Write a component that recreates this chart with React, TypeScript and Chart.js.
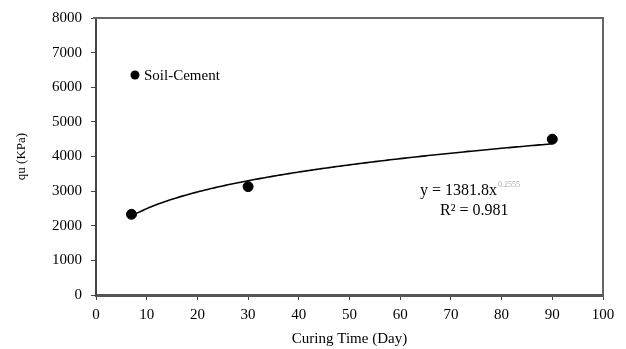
import { useEffect, useRef } from "react";
import { Chart, registerables } from "chart.js";

Chart.register(...registerables);

// ---- data ----
const curingDays = [7, 30, 90];
const quValues = [2330, 3130, 4500];
const seriesLabel = "Soil-Cement";
const equationMain = "y = 1381.8x";
const equationExp = "0.2555";
const r2Text = "R² = 0.981";
const xTitle = "Curing Time (Day)";
const yTitle = "qu (KPa)";
const xRange = [0, 100];
const yRange = [0, 8000];

const FONT = "'Liberation Serif', 'Times New Roman', serif";

// power-law least-squares fit (log-log), as a spreadsheet trendline does
function powerFit(xs: number[], ys: number[]) {
  const lx = xs.map((v) => Math.log(v));
  const ly = ys.map((v) => Math.log(v));
  const n = xs.length;
  const mx = lx.reduce((a, b) => a + b, 0) / n;
  const my = ly.reduce((a, b) => a + b, 0) / n;
  let sxy = 0, sxx = 0;
  for (let i = 0; i < n; i++) {
    sxy += (lx[i] - mx) * (ly[i] - my);
    sxx += (lx[i] - mx) * (lx[i] - mx);
  }
  const b = sxy / sxx;
  const a = Math.exp(my - b * mx);
  return { a, b };
}

export default function App() {
  const ref = useRef<HTMLCanvasElement | null>(null);

  useEffect(() => {
    const canvas = ref.current;
    if (!canvas) return;
    const { a, b } = powerFit(curingDays, quValues);
    const x0 = Math.min(...curingDays);
    const x1 = Math.max(...curingDays);
    const trend: { x: number; y: number }[] = [];
    for (let d = x0; d <= x1; d += 0.5) trend.push({ x: d, y: a * Math.pow(d, b) });

    const overlay = {
      id: "overlay",
      afterDraw(chart: any) {
        const { ctx, chartArea } = chart;
        ctx.save();
        // frame top & right
        ctx.strokeStyle = "#666";
        ctx.lineWidth = 2;
        ctx.beginPath();
        ctx.moveTo(chartArea.left - 3, chartArea.top);
        ctx.lineTo(chartArea.right, chartArea.top);
        ctx.lineTo(chartArea.right, chartArea.bottom);
        ctx.stroke();
        // legend
        ctx.fillStyle = "#000";
        ctx.beginPath();
        ctx.arc(135, 75, 4.5, 0, Math.PI * 2);
        ctx.fill();
        ctx.font = `15px ${FONT}`;
        ctx.textBaseline = "middle";
        ctx.textAlign = "left";
        ctx.fillText(seriesLabel, 144, 76);
        // equation
        ctx.font = `16px ${FONT}`;
        ctx.fillText(equationMain, 420, 191);
        const w = ctx.measureText(equationMain).width;
        ctx.font = `8px ${FONT}`;
        ctx.fillStyle = "#aaa";
        ctx.fillText(equationExp, 420 + w + 1, 185);
        ctx.fillStyle = "#000";
        ctx.font = `16px ${FONT}`;
        ctx.fillText(r2Text, 440, 211);
        ctx.restore();
      },
    };

    const chart = new Chart(canvas, {
      type: "scatter",
      data: {
        datasets: [
          {
            label: "trend",
            data: trend,
            showLine: true,
            borderColor: "#000",
            borderWidth: 1.6,
            pointRadius: 0,
            fill: false,
          } as any,
          {
            label: seriesLabel,
            data: curingDays.map((d, i) => ({ x: d, y: quValues[i] })),
            backgroundColor: "#000",
            borderColor: "#000",
            pointRadius: 5,
            pointHoverRadius: 5,
          },
        ],
      },
      options: {
        responsive: false,
        animation: false,
        devicePixelRatio: 1,
        layout: { padding: { top: 18, right: 23, left: 0, bottom: 0 } },
        plugins: { legend: { display: false }, tooltip: { enabled: false } },
        scales: {
          x: {
            type: "linear",
            min: xRange[0],
            max: xRange[1],
            ticks: {
              stepSize: 10,
              color: "#000",
              font: { family: FONT, size: 15 },
              padding: 6,
              callback: (v: any) => String(v),
            },
            grid: { drawOnChartArea: false, drawTicks: true, tickLength: 5, color: "#444", tickWidth: 1 },
            border: { display: true, color: "#555", width: 3 },
            title: {
              display: true,
              text: xTitle,
              color: "#000",
              font: { family: FONT, size: 15 },
              padding: { top: 0, bottom: 1 },
            },
            afterFit: (s: any) => {
              s.height = 54;
            },
          },
          y: {
            min: yRange[0],
            max: yRange[1],
            ticks: {
              stepSize: 1000,
              color: "#000",
              font: { family: FONT, size: 15 },
              padding: 9,
              callback: (v: any) => String(v),
            },
            grid: { drawOnChartArea: false, drawTicks: true, tickLength: 5, color: "#444", tickWidth: 1 },
            border: { display: true, color: "#444", width: 2 },
            title: {
              display: true,
              text: yTitle,
              color: "#000",
              font: { family: FONT, size: 13 },
              padding: { top: 14, bottom: 0 },
            },
            afterFit: (s: any) => {
              s.width = 96;
            },
          },
        },
      },
      plugins: [overlay],
    });
    return () => chart.destroy();
  }, []);

  return (
    <div style={{ position: "absolute", left: 0, top: 0, width: 626, height: 349, background: "#fff" }}>
      <canvas ref={ref} width={626} height={349} style={{ width: 626, height: 349, display: "block" }} />
    </div>
  );
}
